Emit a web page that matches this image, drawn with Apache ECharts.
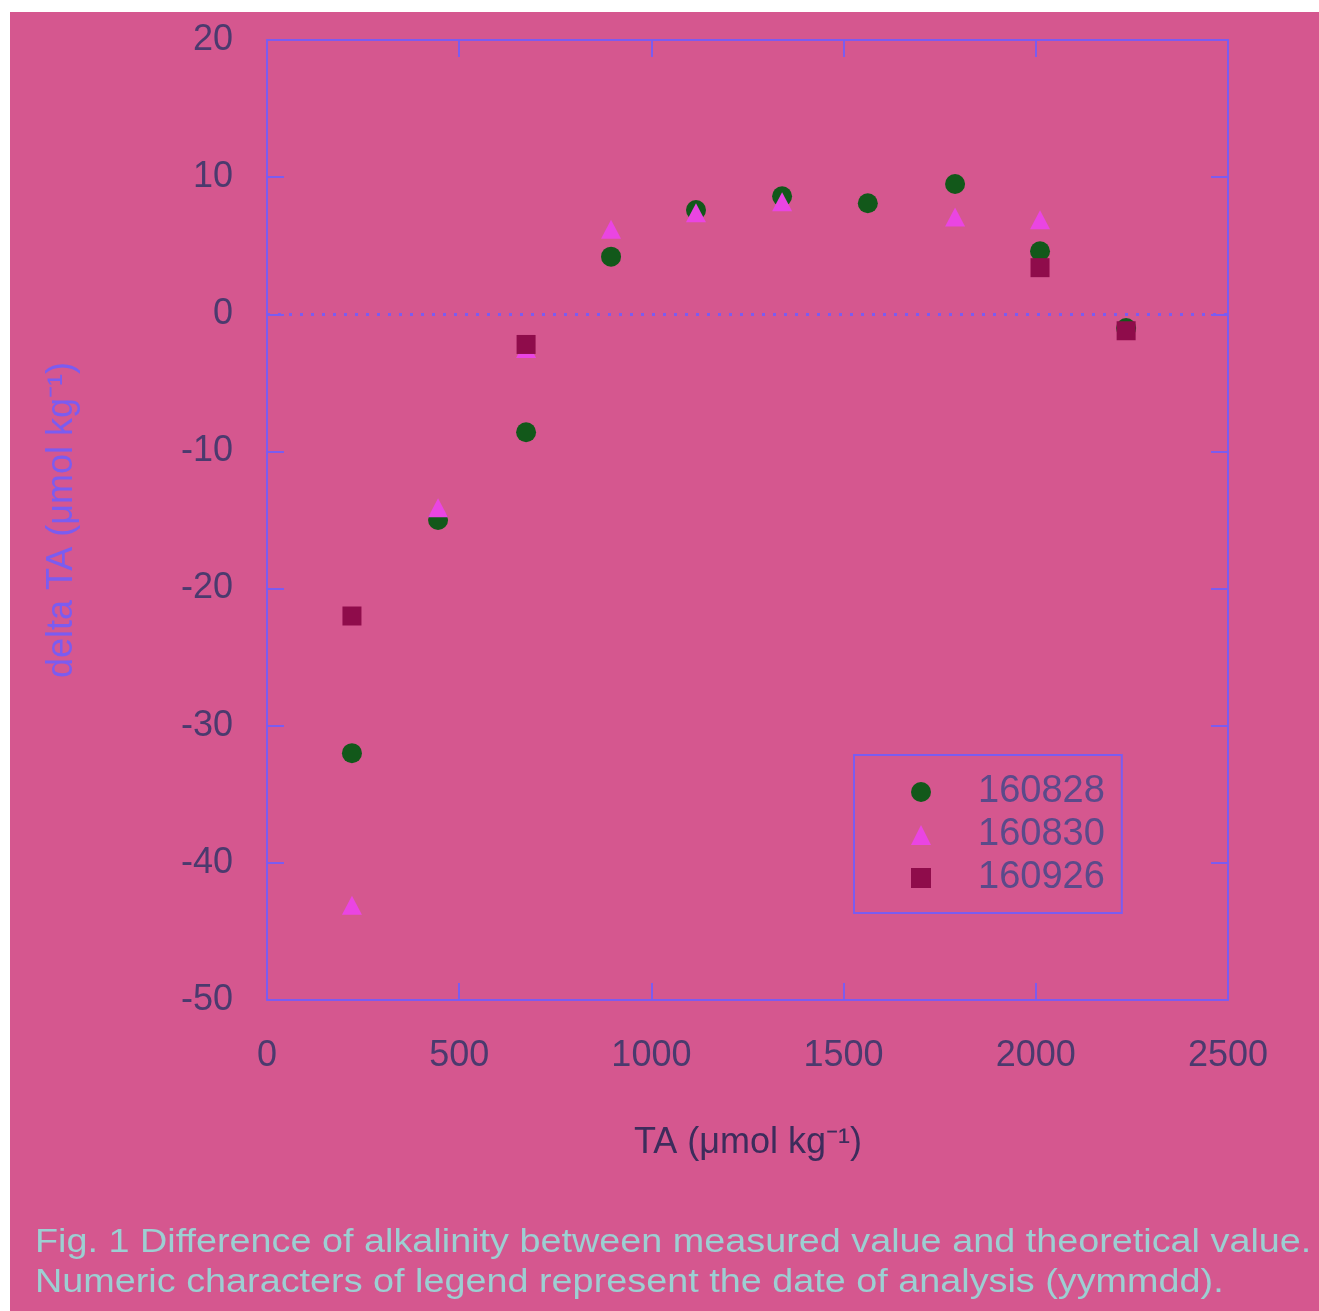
<!DOCTYPE html>
<html>
<head>
<meta charset="utf-8">
<script src="https://cdn.jsdelivr.net/npm/echarts@6/dist/echarts.min.js"></script>
<style>
  html, body { margin: 0; padding: 0; background: #ffffff; }
  #chart { width: 1319px; height: 1311px; }
</style>
</head>
<body>
<div id="chart"></div>
<script>
// date of analysis (yymmdd)
const seriesNames = ['160828', '160830', '160926']

// 160828 (circles)
const taCircle = [221, 445, 674, 895, 1116, 1340, 1563, 1790, 2011, 2235]
const deltaCircle = [-32.0, -15.0, -8.6, 4.2, 7.6, 8.6, 8.1, 9.5, 4.6, -1.0]

// 160830 (triangles)
const taTriangle = [221, 445, 674, 895, 1116, 1340, 1790, 2011]
const deltaTriangle = [-43.1, -14.1, -2.5, 6.2, 7.4, 8.2, 7.1, 6.9]

// 160926 (squares)
const taSquare = [221, 674, 2011, 2235]
const deltaSquare = [-22.0, -2.2, 3.4, -1.2]

const xTicks = [0, 500, 1000, 1500, 2000, 2500]
const yTicks = [-50, -40, -30, -20, -10, 0, 10, 20]

const axisColor = '#7b5cf0'
const tickLabelColor = '#4b3a6e'
const fontFamily = '"Liberation Sans", Arial, sans-serif'

const pairs = (xs, ys) => xs.map((x, i) => [x, ys[i]])

const chart = echarts.init(document.getElementById('chart'))

const xBase = {
  type: 'value',
  min: xTicks[0],
  max: xTicks[xTicks.length - 1],
  interval: 500,
  axisLine: { show: true, onZero: false, lineStyle: { color: axisColor, width: 2 } },
  axisTick: { show: true, inside: true, length: 17, lineStyle: { color: axisColor, width: 2 } },
  splitLine: { show: false },
}
const yBase = {
  type: 'value',
  min: yTicks[0],
  max: yTicks[yTicks.length - 1],
  interval: 10,
  axisLine: { show: true, onZero: false, lineStyle: { color: axisColor, width: 2 } },
  axisTick: { show: true, inside: true, length: 17, lineStyle: { color: axisColor, width: 2 } },
  splitLine: { show: false },
}

const option = {
  backgroundColor: 'transparent',
  animation: false,
  graphic: [
    {
      type: 'rect',
      z: -10,
      shape: { x: 10, y: 12, width: 1309, height: 1299 },
      style: { fill: '#d5578f' },
    },
    {
      type: 'text',
      x: 748,
      y: 1143,
      style: {
        text: 'TA (μmol kg⁻¹)',
        font: '36px ' + fontFamily,
        fill: '#3d2c5c',
        align: 'center',
        verticalAlign: 'middle',
      },
    },
    {
      type: 'text',
      x: 62,
      y: 520,
      rotation: Math.PI / 2,
      style: {
        text: 'delta TA (μmol kg⁻¹)',
        font: '36px ' + fontFamily,
        fill: axisColor,
        align: 'center',
        verticalAlign: 'middle',
      },
    },
    {
      type: 'text',
      x: 35,
      y: 1243,
      scaleX: 1.145,
      style: {
        text: 'Fig. 1 Difference of alkalinity between measured value and theoretical value.',
        font: '33px ' + fontFamily,
        fill: '#9ccfd2',
        verticalAlign: 'middle',
      },
    },
    {
      type: 'text',
      x: 35,
      y: 1283,
      scaleX: 1.145,
      style: {
        text: 'Numeric characters of legend represent the date of analysis (yymmdd).',
        font: '33px ' + fontFamily,
        fill: '#9ccfd2',
        verticalAlign: 'middle',
      },
    },
  ],
  grid: { left: 267, right: 91, top: 40, bottom: 311, containLabel: false },
  legend: {
    orient: 'vertical',
    left: 854,
    top: 755,
    padding: [18, 17, 16, 57],
    itemWidth: 20,
    itemHeight: 20,
    itemGap: 5,
    borderColor: axisColor,
    borderWidth: 2,
    textStyle: {
      color: '#5b4a8a',
      fontSize: 38,
      fontFamily: fontFamily,
      padding: [0, 0, 0, 42],
    },
    data: seriesNames,
  },
  xAxis: [
    {
      ...xBase,
      position: 'bottom',
      axisLabel: {
        margin: 38,
        color: tickLabelColor,
        fontSize: 36,
        fontFamily: fontFamily,
        formatter: (v) => String(v),
      },
    },
    { ...xBase, position: 'top', axisLabel: { show: false } },
  ],
  yAxis: [
    {
      ...yBase,
      position: 'left',
      axisLabel: {
        margin: 34,
        color: tickLabelColor,
        fontSize: 36,
        fontFamily: fontFamily,
        formatter: (v) => String(v),
      },
    },
    { ...yBase, position: 'right', axisLabel: { show: false } },
  ],
  series: [
    {
      name: seriesNames[0],
      type: 'scatter',
      symbol: 'circle',
      symbolSize: 20,
      itemStyle: { color: '#12581a', opacity: 1 },
      data: pairs(taCircle, deltaCircle),
      markLine: {
        silent: true,
        symbol: 'none',
        label: { show: false },
        lineStyle: { color: axisColor, type: [3, 8], width: 3 },
        data: [{ yAxis: 0 }],
      },
      z: 2,
    },
    {
      name: seriesNames[1],
      type: 'scatter',
      symbol: 'triangle',
      symbolSize: [20, 19],
      itemStyle: { color: '#ea45e2', opacity: 1 },
      data: pairs(taTriangle, deltaTriangle),
      z: 3,
    },
    {
      name: seriesNames[2],
      type: 'scatter',
      symbol: 'rect',
      symbolSize: 19,
      itemStyle: { color: '#8f0c4b', opacity: 1 },
      data: pairs(taSquare, deltaSquare),
      z: 4,
    },
  ],
}

chart.setOption(option)
</script>
</body>
</html>
